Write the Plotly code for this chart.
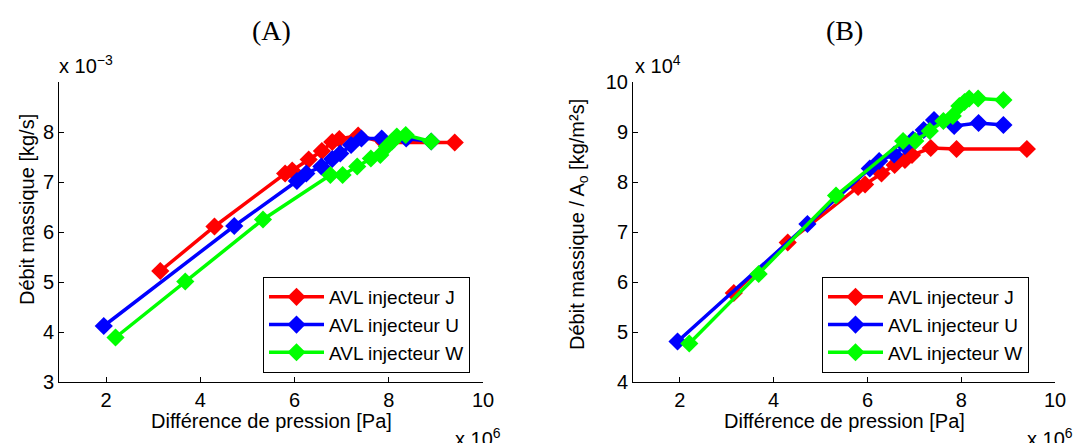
import plotly.graph_objects as go

# pressure difference (x 1e6 Pa) and mass flow readings per injector
x_j = [3.15, 4.3, 5.8, 5.95, 6.3, 6.58, 6.8, 6.95, 7.35, 7.9, 9.4]
a_j = [5.22, 6.11, 7.17, 7.23, 7.45, 7.62, 7.80, 7.86, 7.93, 7.79, 7.79]
b_j = [5.78, 6.79, 7.9, 7.95, 8.17, 8.34, 8.44, 8.54, 8.68, 8.66, 8.66]

x_u = [1.95, 4.72, 6.05, 6.25, 6.57, 6.8, 6.97, 7.2, 7.42, 7.85, 8.37, 8.9]
a_u = [4.12, 6.12, 7.02, 7.17, 7.31, 7.46, 7.57, 7.74, 7.87, 7.87, 7.87, 7.81]
b_u = [4.81, 7.16, 8.27, 8.42, 8.55, 8.72, 8.85, 9.04, 9.24, 9.12, 9.18, 9.14]

x_w = [2.2, 3.68, 5.33, 6.76, 7.02, 7.33, 7.62, 7.82, 7.96, 8.07, 8.17, 8.36, 8.9]
a_w = [3.89, 5.01, 6.25, 7.14, 7.14, 7.31, 7.47, 7.54, 7.71, 7.81, 7.91, 7.94, 7.81]
b_w = [4.77, 6.16, 7.73, 8.82, 8.82, 9.02, 9.22, 9.32, 9.52, 9.6, 9.67, 9.67, 9.64]

names = ["AVL injecteur J", "AVL injecteur U", "AVL injecteur W"]
colors = ["#ff0000", "#0000ff", "#00ff00"]
x_ticks = [2, 4, 6, 8, 10]

FONT = "Liberation Sans, Arial, sans-serif"
SERIF = "Liberation Serif, Times New Roman, serif"

W, H = 1091, 443
OFF = 8  # page body margin shifts the figure


def px(x):
    return (x - OFF) / W


def py(y):
    return 1 - (y - OFF) / H


fig = go.Figure()

series = [(x_j, a_j, b_j), (x_u, a_u, b_u), (x_w, a_w, b_w)]
for (xs, a, b), name, col in zip(series, names, colors):
    fig.add_trace(go.Scatter(x=xs, y=a, name=name, mode="lines+markers",
                             line=dict(color=col, width=3.5),
                             marker=dict(symbol="diamond", size=14, color=col),
                             xaxis="x", yaxis="y", legend="legend"))
    fig.add_trace(go.Scatter(x=xs, y=b, name=name, mode="lines+markers",
                             line=dict(color=col, width=3.5),
                             marker=dict(symbol="diamond", size=14, color=col),
                             xaxis="x2", yaxis="y2", legend="legend2"))

ax_common = dict(showline=True, linecolor="black", linewidth=1, ticks="inside",
                 ticklen=5, tickcolor="black", showgrid=False, zeroline=False,
                 tickfont=dict(family=FONT, size=20, color="black"), mirror=False,
                 automargin=False)

ydom = [py(382), py(82)]
fig.update_layout(
    width=W, height=H,
    margin=dict(l=0, r=0, t=0, b=0, pad=0, autoexpand=False),
    plot_bgcolor="white", paper_bgcolor="white",
    font=dict(family=FONT, color="black", size=20),
    xaxis=dict(domain=[px(59), px(483)], range=[1, 10], tickvals=x_ticks,
               anchor="y", **ax_common),
    yaxis=dict(domain=ydom, range=[3, 9], tickvals=[3, 4, 5, 6, 7, 8],
               anchor="x", **ax_common),
    xaxis2=dict(domain=[px(633), px(1055)], range=[1, 10], tickvals=x_ticks,
                anchor="y2", **ax_common),
    yaxis2=dict(domain=ydom, range=[4, 10], tickvals=[4, 5, 6, 7, 8, 9, 10],
                anchor="x2", **ax_common),
    legend=dict(x=px(263), y=py(277), xanchor="left", yanchor="top",
                bordercolor="black", borderwidth=1, bgcolor="white",
                font=dict(family=FONT, size=19), itemwidth=55),
    legend2=dict(x=px(822), y=py(277), xanchor="left", yanchor="top",
                 bordercolor="black", borderwidth=1, bgcolor="white",
                 font=dict(family=FONT, size=19), itemwidth=55),
)

ann = [
    dict(x=px(271), y=py(30), text="(A)", font=dict(family=SERIF, size=28)),
    dict(x=px(844), y=py(30), text="(B)", font=dict(family=SERIF, size=28)),
    dict(x=px(57), y=py(65), text="x 10<sup>−3</sup>", xanchor="left"),
    dict(x=px(633), y=py(65), text="x 10<sup>4</sup>", xanchor="left"),
    dict(x=px(271), y=py(421), text="Différence de pression [Pa]"),
    dict(x=px(844), y=py(421), text="Différence de pression [Pa]"),
    dict(x=px(453), y=py(423), text="x 10<sup>6</sup>", xanchor="left", yanchor="top"),
    dict(x=px(1025), y=py(423), text="x 10<sup>6</sup>", xanchor="left", yanchor="top"),
    dict(x=px(27), y=py(210), text="Débit massique [kg/s]", textangle=-90),
    dict(x=px(578), y=py(225), text="Débit massique / A<sub>o</sub> [kg/m²s]", textangle=-90),
]
for a in ann:
    a.setdefault("xanchor", "center")
    a.setdefault("yanchor", "middle")
    a.setdefault("font", dict(family=FONT, size=20))
    fig.add_annotation(xref="paper", yref="paper", showarrow=False, **a)

fig.write_html("out.html")
